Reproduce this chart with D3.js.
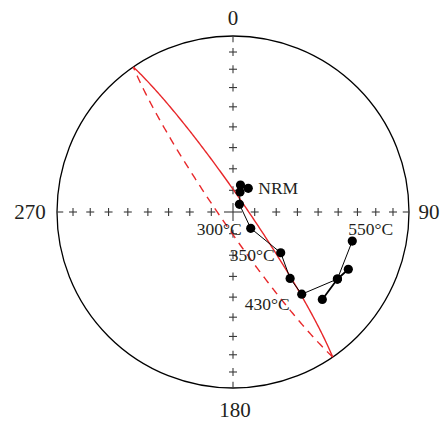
<!DOCTYPE html>
<html>
<head>
<meta charset="utf-8">
<script src="https://cdn.jsdelivr.net/npm/d3@7"></script>
<style>
  body { margin: 0; background: #fff; }
  text { font-family: "Liberation Serif", "Times New Roman", serif; fill: #231f20; }
</style>
</head>
<body>
<svg id="chart" width="446" height="427"></svg>
<script>
// demagnetisation steps (lower hemisphere, equal-area)
const stepLabels   = ["", "NRM", "", "", "300°C", "350°C", "", "430°C", "", "550°C"];
const declinations = [15.5, 32.8, 19.3, 40.2, 132.6, 130.5, 139.3, 140.1, 122.7, 103.7];
const inclinations = [77.1, 77.0, 80.2, 85.4, 78.9, 60.8, 48.8, 39.0, 30.2, 30.9];

// last high temperature steps, joined by the heavier line
const extraDec = [134.4, 122.7, 116.4];
const extraInc = [29.7, 30.2, 27.7];

// remagnetisation great circle: dip direction, dip
const planeDipDir = 55.5;
const planeDip = 84;

const axisLabels = ["0", "90", "180", "270"];
const axisAzimuths = [0, 90, 180, 270];
const tickInclinations = [10, 20, 30, 40, 50, 60, 70, 80];

// label placement relative to its point
const labelOffsets = {
  "NRM":   { dx: 10, dy: 6,  anchor: "start" },
  "300°C": { dx: -9, dy: 7,  anchor: "end" },
  "350°C": { dx: -6, dy: 8,  anchor: "end" },
  "430°C": { dx: -12, dy: 16, anchor: "end" },
  "550°C": { dx: -4, dy: -6, anchor: "start" }
};

const svg = d3.select("#chart");
const cx = 233, cy = 212, R = 176;
const rad = Math.PI / 180;

// equal-area radius: sqrt(2)*sin((90-|I|)/2), 0 at centre, 1 at primitive
const rScale = d3.scaleLinear().domain([0, 1]).range([0, R]);

function project(dec, inc) {
  const r = rScale(Math.SQRT2 * Math.sin((90 - Math.abs(inc)) / 2 * rad));
  return [cx + r * Math.sin(dec * rad), cy - r * Math.cos(dec * rad)];
}

// primitive circle
svg.append("circle")
  .attr("cx", cx).attr("cy", cy).attr("r", R)
  .attr("fill", "none").attr("stroke", "#000").attr("stroke-width", 1.3);

// tick crosses every 10 degrees along the four axes
const tickG = svg.append("g").attr("stroke", "#3a3a3a").attr("stroke-width", 1.1);
axisAzimuths.forEach(az => {
  tickInclinations.forEach(inc => {
    const [x, y] = project(az, inc);
    tickG.append("line").attr("x1", x - 4).attr("x2", x + 4).attr("y1", y).attr("y2", y);
    tickG.append("line").attr("x1", x).attr("x2", x).attr("y1", y - 4).attr("y2", y + 4);
  });
  // short inward tick at the primitive
  const [x0, y0] = project(az, 0);
  const [x1, y1] = project(az, 4);
  tickG.append("line").attr("x1", x0).attr("y1", y0).attr("x2", x1).attr("y2", y1);
});
// centre cross
tickG.append("line").attr("x1", cx - 9).attr("x2", cx + 9).attr("y1", cy).attr("y2", cy);
tickG.append("line").attr("x1", cx).attr("x2", cx).attr("y1", cy - 9).attr("y2", cy + 9);

// axis labels
const labelPos = [[cx, 25], [429, 219], [235, 417], [30, 219]];
svg.selectAll(".axis-label")
  .data(axisLabels)
  .enter().append("text")
  .attr("class", "axis-label")
  .attr("x", (d, i) => labelPos[i][0])
  .attr("y", (d, i) => labelPos[i][1])
  .attr("text-anchor", "middle")
  .attr("font-size", 21)
  .text(d => d);

// great circle: lower hemisphere solid, upper hemisphere dashed
const strike = planeDipDir - 90;
const sVec = [Math.sin(strike * rad), Math.cos(strike * rad), 0];
const dVec = [Math.cos(planeDip * rad) * Math.sin(planeDipDir * rad),
              Math.cos(planeDip * rad) * Math.cos(planeDipDir * rad),
              Math.sin(planeDip * rad)];
const lower = [], upper = [];
d3.range(0, 180.5, 1).forEach(t => {
  const v = sVec.map((s, k) => Math.cos(t * rad) * s + Math.sin(t * rad) * dVec[k]);
  const dec = Math.atan2(v[0], v[1]) / rad;
  const inc = Math.asin(Math.max(-1, Math.min(1, v[2]))) / rad;
  lower.push(project(dec, inc));
  upper.push(project(dec + 180, -inc));
});
const line = d3.line();
svg.append("path").attr("d", line(lower))
  .attr("fill", "none").attr("stroke", "#e8282b").attr("stroke-width", 1.4);
svg.append("path").attr("d", line(upper))
  .attr("fill", "none").attr("stroke", "#e8282b").attr("stroke-width", 1.4)
  .attr("stroke-dasharray", "8,6");

// demagnetisation path
const pts = declinations.map((d, i) => project(d, inclinations[i]));
const extraPts = extraDec.map((d, i) => project(d, extraInc[i]));

svg.append("path").attr("d", line(pts))
  .attr("fill", "none").attr("stroke", "#000").attr("stroke-width", 1);
svg.append("path").attr("d", line(extraPts))
  .attr("fill", "none").attr("stroke", "#000").attr("stroke-width", 1.8);

svg.selectAll(".step")
  .data(pts.concat(extraPts))
  .enter().append("circle")
  .attr("class", "step")
  .attr("cx", d => d[0]).attr("cy", d => d[1])
  .attr("r", 4.6)
  .attr("fill", "#000");

// step labels
stepLabels.forEach((lab, i) => {
  if (!lab) return;
  const o = labelOffsets[lab];
  svg.append("text")
    .attr("x", pts[i][0] + o.dx)
    .attr("y", pts[i][1] + o.dy)
    .attr("text-anchor", o.anchor)
    .attr("font-size", 17.5)
    .text(lab);
});
</script>
</body>
</html>
